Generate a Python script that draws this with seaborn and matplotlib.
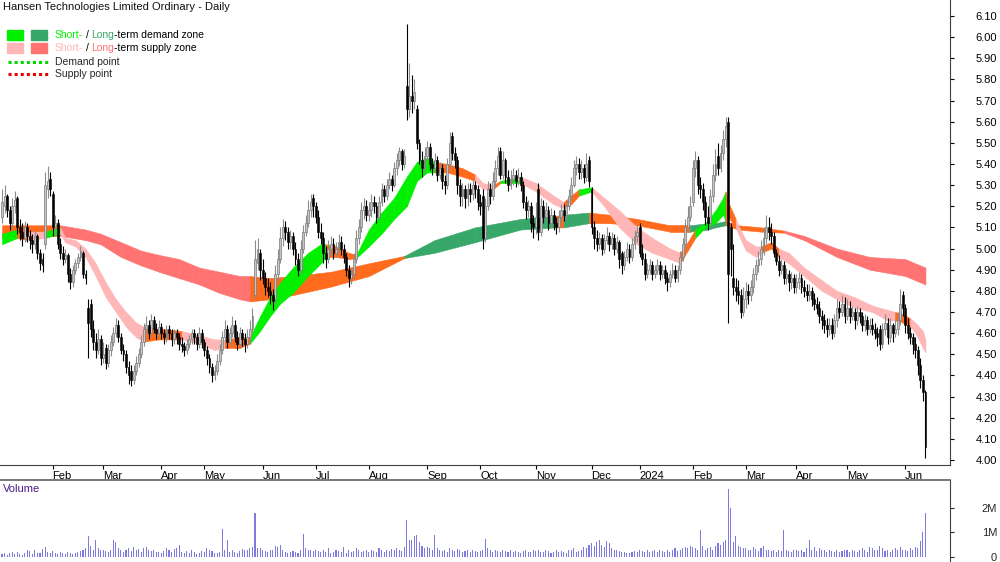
import numpy as np
import pandas as pd
import matplotlib
matplotlib.use("Agg")
import matplotlib.pyplot as plt
import seaborn as sns

# ---------------- data ----------------
holidays = ['2023-01-26', '2023-04-07', '2023-04-10', '2023-04-25', '2023-06-12',
            '2023-12-25', '2023-12-26', '2024-01-01', '2024-01-26', '2024-03-29',
            '2024-04-01', '2024-04-25', '2024-06-10']

close_m = [
 [5.22,5.25,5.18,5.12,5.20,5.23,5.10,5.08,5.05,5.10,5.06,5.04,5.02,5.06,4.98,4.93,4.92,5.30,5.32,5.28],
 [5.10,5.12,5.02,4.98,4.95,4.97,4.88,4.84,4.90,4.93,4.96,4.99,4.88,4.86,4.65,4.62,4.56,4.52,4.57,4.48],
 [4.50,4.46,4.52,4.56,4.60,4.64,4.58,4.52,4.50,4.44,4.40,4.38,4.42,4.46,4.50,4.56,4.62,4.64,4.60,4.66,4.62,4.60,4.63],
 [4.60,4.58,4.62,4.60,4.57,4.60,4.58,4.55,4.54,4.52,4.55,4.57,4.60,4.58,4.55,4.60,4.56],
 [4.52,4.48,4.44,4.40,4.42,4.47,4.52,4.58,4.62,4.56,4.60,4.64,4.58,4.55,4.60,4.57,4.55,4.58,4.62,4.68,4.95,5.00,4.90],
 [4.86,4.82,4.80,4.78,4.75,4.88,4.95,5.05,5.10,5.08,5.03,5.06,5.00,4.95,4.90,5.00,5.08,5.12,5.18,5.22,5.20],
 [5.15,5.08,5.05,4.98,4.95,5.00,5.02,4.98,5.00,5.03,5.00,4.96,4.90,4.86,4.88,4.95,5.05,5.10,5.18,5.20,5.16],
 [5.18,5.22,5.20,5.15,5.22,5.28,5.25,5.30,5.33,5.30,5.38,5.42,5.46,5.40,5.44,5.66,5.72,5.70,5.74,5.50,5.42,5.38,5.44],
 [5.48,5.40,5.38,5.42,5.35,5.38,5.32,5.30,5.40,5.50,5.45,5.42,5.30,5.25,5.28,5.24,5.28,5.26,5.30,5.28,5.22],
 [5.20,5.05,5.20,5.28,5.25,5.32,5.38,5.44,5.35,5.42,5.34,5.30,5.33,5.35,5.32,5.34,5.30,5.22,5.18,5.20,5.12,5.10],
 [5.15,5.08,5.20,5.15,5.18,5.12,5.16,5.12,5.10,5.15,5.18,5.16,5.20,5.25,5.30,5.38,5.40,5.36,5.38,5.34,5.40,5.32],
 [5.10,5.05,5.02,5.05,5.00,5.04,5.06,5.02,5.05,5.00,5.03,4.95,4.92,4.96,5.00,4.96,5.02,5.06,5.08],
 [4.98,4.95,4.88,4.90,4.92,4.88,4.90,4.92,4.88,4.90,4.86,4.84,4.88,4.90,4.86,4.90,4.96,5.02,5.10,5.15,5.20],
 [5.38,5.42,5.30,5.28,5.22,5.15,5.12,5.25,5.35,5.40,5.38,5.45,5.52,5.58,4.88,5.00,4.82,4.80,4.78,4.70,4.76],
 [4.80,4.78,4.82,4.88,4.92,4.95,5.00,5.05,5.10,5.08,5.06,4.98,4.94,4.90,4.92,4.86,4.88,4.84,4.86,4.82],
 [4.84,4.86,4.82,4.80,4.78,4.80,4.76,4.74,4.72,4.68,4.66,4.64,4.62,4.64,4.60,4.66,4.72,4.70,4.74,4.68],
 [4.72,4.68,4.70,4.66,4.70,4.68,4.64,4.66,4.62,4.64,4.62,4.60,4.58,4.55,4.62,4.65,4.58,4.64,4.60,4.62,4.66,4.74,4.72],
 [4.64,4.60,4.58,4.55,4.52,4.45,4.38,4.32,4.06],
]
open_m = [
 [5.15,5.20,5.25,5.18,5.12,5.20,5.24,5.10,5.08,5.05,5.10,5.06,5.04,5.02,5.06,4.98,4.95,5.02,5.28,5.33],
 [5.26,5.10,5.12,5.02,4.98,4.95,4.97,4.88,4.84,4.90,4.93,4.96,4.98,4.88,4.72,4.74,4.62,4.56,4.52,4.57],
 [4.48,4.53,4.46,4.52,4.56,4.60,4.64,4.58,4.52,4.50,4.44,4.42,4.38,4.42,4.46,4.50,4.56,4.62,4.64,4.60,4.66,4.62,4.60],
 [4.63,4.60,4.58,4.62,4.60,4.57,4.60,4.58,4.55,4.54,4.52,4.55,4.57,4.60,4.58,4.55,4.60],
 [4.56,4.52,4.48,4.44,4.40,4.42,4.47,4.52,4.58,4.62,4.56,4.60,4.64,4.58,4.55,4.60,4.57,4.55,4.58,4.62,4.78,4.93,4.98],
 [4.90,4.86,4.82,4.80,4.78,4.76,4.88,4.95,5.05,5.10,5.08,5.03,5.06,5.00,4.95,4.90,5.00,5.08,5.12,5.18,5.24],
 [5.20,5.15,5.08,5.05,4.98,4.95,5.00,5.02,4.98,5.00,5.03,5.00,4.96,4.90,4.86,4.88,4.95,5.05,5.10,5.18,5.20],
 [5.16,5.18,5.22,5.20,5.15,5.22,5.28,5.25,5.30,5.33,5.30,5.38,5.42,5.46,5.40,5.77,5.66,5.72,5.70,5.66,5.50,5.42,5.38],
 [5.44,5.48,5.40,5.38,5.42,5.35,5.38,5.32,5.30,5.40,5.53,5.45,5.42,5.30,5.25,5.28,5.24,5.28,5.26,5.30,5.28],
 [5.22,5.25,5.05,5.20,5.28,5.25,5.32,5.38,5.46,5.35,5.42,5.34,5.30,5.33,5.35,5.32,5.34,5.30,5.22,5.18,5.20,5.12],
 [5.10,5.28,5.08,5.20,5.15,5.18,5.12,5.16,5.12,5.10,5.15,5.18,5.16,5.20,5.25,5.30,5.38,5.40,5.36,5.38,5.34,5.42],
 [5.28,5.10,5.05,5.02,5.05,5.00,5.04,5.06,5.02,5.05,5.00,5.03,4.98,4.92,4.96,5.00,4.96,5.02,5.06],
 [5.10,4.98,4.95,4.88,4.90,4.92,4.88,4.90,4.92,4.88,4.90,4.86,4.84,4.88,4.90,4.86,4.90,4.96,5.02,5.10,5.15],
 [5.22,5.38,5.42,5.30,5.28,5.22,5.15,5.12,5.25,5.35,5.44,5.38,5.45,5.52,5.60,5.10,4.86,4.82,4.80,4.78,4.70],
 [4.76,4.80,4.78,4.82,4.88,4.92,4.95,5.00,5.05,5.10,5.08,5.06,4.98,4.94,4.90,4.92,4.86,4.88,4.84,4.86],
 [4.82,4.84,4.86,4.82,4.80,4.78,4.80,4.76,4.74,4.72,4.68,4.66,4.64,4.62,4.64,4.60,4.66,4.72,4.70,4.74],
 [4.68,4.72,4.68,4.70,4.66,4.70,4.68,4.64,4.66,4.62,4.64,4.62,4.60,4.62,4.55,4.62,4.65,4.58,4.64,4.60,4.62,4.66,4.78],
 [4.72,4.64,4.60,4.58,4.55,4.52,4.45,4.38,4.32],
]
high_m = [
 [5.28,5.30,5.26,5.20,5.24,5.27,5.25,5.14,5.12,5.13,5.12,5.09,5.07,5.09,5.07,5.00,4.98,5.36,5.39,5.36],
 [5.27,5.16,5.14,5.05,5.01,5.00,4.98,4.91,4.92,4.95,4.98,5.01,4.99,4.90,4.76,4.76,4.66,4.60,4.62,4.59],
 [4.56,4.55,4.55,4.59,4.63,4.67,4.66,4.60,4.55,4.52,4.47,4.45,4.45,4.49,4.53,4.59,4.65,4.68,4.66,4.69,4.68,4.65,4.66],
 [4.65,4.62,4.64,4.64,4.62,4.62,4.62,4.60,4.58,4.56,4.57,4.59,4.62,4.62,4.60,4.63,4.62],
 [4.57,4.54,4.50,4.46,4.45,4.50,4.55,4.61,4.66,4.64,4.63,4.68,4.66,4.61,4.63,4.62,4.60,4.62,4.66,4.72,5.04,5.05,5.00],
 [4.95,4.89,4.86,4.84,4.81,4.92,5.00,5.10,5.14,5.13,5.10,5.09,5.08,5.03,4.98,5.04,5.11,5.16,5.23,5.26,5.26],
 [5.22,5.18,5.12,5.08,5.01,5.04,5.06,5.05,5.03,5.07,5.06,5.02,4.98,4.92,4.91,4.98,5.09,5.14,5.22,5.24,5.23],
 [5.22,5.26,5.25,5.22,5.25,5.31,5.30,5.33,5.36,5.35,5.41,5.45,5.48,5.47,5.47,6.06,5.88,5.82,5.80,5.68,5.52,5.46,5.48],
 [5.51,5.50,5.43,5.45,5.44,5.41,5.40,5.35,5.43,5.55,5.55,5.48,5.44,5.33,5.31,5.30,5.31,5.31,5.33,5.32,5.30],
 [5.26,5.28,5.24,5.32,5.31,5.36,5.42,5.48,5.48,5.46,5.43,5.37,5.37,5.38,5.37,5.38,5.36,5.32,5.25,5.23,5.22,5.16],
 [5.22,5.31,5.24,5.23,5.22,5.20,5.19,5.18,5.15,5.18,5.21,5.21,5.23,5.28,5.34,5.42,5.44,5.43,5.42,5.40,5.45,5.44],
 [5.29,5.13,5.09,5.08,5.07,5.07,5.10,5.08,5.08,5.07,5.06,5.04,4.99,4.99,5.03,5.02,5.05,5.09,5.11],
 [5.12,5.02,4.98,4.93,4.95,4.94,4.92,4.95,4.94,4.92,4.92,4.89,4.90,4.93,4.92,4.92,4.99,5.05,5.14,5.20,5.25],
 [5.42,5.46,5.44,5.34,5.31,5.25,5.20,5.28,5.40,5.47,5.50,5.49,5.56,5.62,5.62,5.12,5.02,4.86,4.85,4.81,4.82],
 [4.84,4.83,4.85,4.91,4.95,4.99,5.04,5.10,5.16,5.15,5.12,5.08,5.00,4.97,4.95,4.94,4.91,4.90,4.89,4.88],
 [4.88,4.89,4.88,4.85,4.83,4.83,4.82,4.79,4.77,4.75,4.71,4.69,4.67,4.67,4.67,4.69,4.76,4.75,4.78,4.77],
 [4.76,4.75,4.73,4.72,4.73,4.72,4.70,4.69,4.68,4.67,4.67,4.65,4.63,4.64,4.65,4.69,4.67,4.67,4.65,4.66,4.70,4.81,4.80],
 [4.74,4.67,4.63,4.60,4.58,4.54,4.48,4.40,4.33],
]
low_m = [
 [5.12,5.17,5.15,5.09,5.10,5.17,5.07,5.04,5.01,5.03,5.03,5.00,4.98,5.00,4.95,4.90,4.89,5.00,5.24,5.25],
 [5.06,5.06,5.00,4.95,4.92,4.93,4.84,4.81,4.82,4.88,4.91,4.94,4.86,4.83,4.48,4.58,4.52,4.48,4.50,4.45],
 [4.46,4.43,4.44,4.49,4.54,4.58,4.56,4.50,4.47,4.41,4.36,4.35,4.36,4.40,4.44,4.48,4.54,4.60,4.57,4.58,4.60,4.57,4.58],
 [4.57,4.55,4.56,4.57,4.54,4.55,4.55,4.52,4.51,4.49,4.50,4.53,4.55,4.55,4.52,4.53,4.53],
 [4.49,4.45,4.41,4.37,4.38,4.40,4.45,4.50,4.56,4.53,4.54,4.58,4.56,4.52,4.53,4.54,4.51,4.53,4.55,4.60,4.76,4.90,4.85],
 [4.83,4.78,4.77,4.74,4.71,4.74,4.85,4.93,5.01,5.04,5.00,5.00,4.97,4.92,4.87,4.88,4.98,5.06,5.10,5.15,5.15],
 [5.12,5.05,5.02,4.93,4.91,4.93,4.97,4.95,4.96,4.98,4.97,4.93,4.87,4.82,4.83,4.86,4.93,5.02,5.08,5.14,5.13],
 [5.13,5.15,5.17,5.12,5.14,5.20,5.22,5.23,5.28,5.27,5.29,5.35,5.39,5.37,5.38,5.61,5.62,5.64,5.66,5.47,5.40,5.34,5.36],
 [5.42,5.37,5.35,5.36,5.32,5.33,5.28,5.26,5.28,5.38,5.42,5.38,5.26,5.20,5.20,5.19,5.20,5.22,5.23,5.24,5.18],
 [5.16,5.00,5.03,5.18,5.21,5.23,5.29,5.35,5.33,5.33,5.31,5.27,5.28,5.30,5.29,5.30,5.27,5.19,5.14,5.15,5.08,5.05],
 [5.07,5.04,5.06,5.12,5.13,5.09,5.10,5.09,5.07,5.08,5.13,5.13,5.14,5.18,5.23,5.29,5.35,5.33,5.33,5.31,5.32,5.29],
 [5.07,5.00,4.99,5.00,4.97,4.98,5.02,4.99,5.00,4.97,4.98,4.91,4.88,4.90,4.94,4.93,4.94,5.00,5.03],
 [4.96,4.92,4.85,4.86,4.88,4.85,4.86,4.88,4.85,4.86,4.83,4.80,4.82,4.86,4.84,4.84,4.88,4.94,5.00,5.08,5.13],
 [5.20,5.34,5.26,5.24,5.18,5.11,5.09,5.10,5.22,5.32,5.35,5.36,5.42,5.48,4.65,4.87,4.78,4.75,4.74,4.67,4.68],
 [4.72,4.74,4.75,4.79,4.85,4.89,4.92,4.97,5.02,5.04,5.02,4.96,4.92,4.87,4.88,4.83,4.83,4.80,4.81,4.79],
 [4.79,4.81,4.79,4.77,4.75,4.75,4.73,4.71,4.69,4.65,4.62,4.60,4.58,4.59,4.57,4.58,4.63,4.67,4.68,4.65],
 [4.66,4.65,4.66,4.62,4.64,4.65,4.61,4.61,4.59,4.60,4.59,4.57,4.54,4.52,4.53,4.59,4.55,4.56,4.56,4.58,4.59,4.64,4.68],
 [4.60,4.57,4.55,4.50,4.48,4.40,4.34,4.28,4.01],
]
volume_m = [  # millions of shares
 [0.12,0.18,0.10,0.15,0.22,0.14,0.20,0.12,0.10,0.16,0.28,0.25,0.12,0.30,0.18,0.15,0.32,0.40,0.22,0.18],
 [0.25,0.15,0.12,0.20,0.18,0.14,0.22,0.16,0.12,0.18,0.20,0.24,0.30,0.35,0.85,0.45,0.30,0.70,0.35,0.28],
 [0.30,0.26,0.22,0.30,0.70,0.60,0.35,0.28,0.22,0.30,0.35,0.25,0.40,0.28,0.32,0.22,0.35,0.40,0.28,0.25,0.30,0.22,0.20],
 [0.18,0.25,0.35,0.28,0.20,0.32,0.38,0.50,0.22,0.18,0.25,0.15,0.30,0.20,0.12,0.18,0.25],
 [0.20,0.35,0.28,0.25,0.15,0.18,0.22,1.15,0.30,0.70,0.22,0.28,0.20,0.18,0.25,0.32,0.28,0.30,0.35,0.40,1.80,0.38,0.35],
 [0.30,0.25,0.22,0.28,0.30,0.45,0.42,0.50,0.30,0.22,0.18,0.20,0.25,0.22,0.18,0.28,0.95,0.35,0.28,0.30,0.25],
 [0.30,0.25,0.20,0.28,0.22,0.35,0.18,0.20,0.30,0.25,0.22,0.40,0.18,0.30,0.22,0.25,0.35,0.28,0.20,0.25,0.30],
 [0.22,0.30,0.25,0.20,0.35,0.28,0.22,0.30,0.25,0.32,0.28,0.35,0.30,0.25,0.40,1.50,0.70,0.70,0.85,0.90,0.60,0.45,0.35],
 [0.40,0.35,0.30,0.90,0.35,0.28,0.25,0.30,0.22,0.35,0.30,0.25,0.32,0.28,0.20,0.25,0.30,0.22,0.28,0.25,0.20],
 [0.25,0.30,0.75,0.35,0.28,0.22,0.30,0.25,0.20,0.28,0.25,0.22,0.30,0.20,0.25,0.22,0.18,0.25,0.30,0.22,0.20,0.28],
 [0.25,0.30,0.22,0.20,0.28,0.25,0.18,0.22,0.30,0.20,0.25,0.22,0.18,0.28,0.30,0.35,0.22,0.25,0.30,0.40,0.35,0.50],
 [0.55,0.45,0.60,0.70,0.50,0.40,0.65,0.55,0.35,0.30,0.28,0.25,0.20,0.22,0.18,0.15,0.20,0.25,0.22],
 [0.30,0.25,0.22,0.28,0.20,0.25,0.30,0.22,0.28,0.25,0.20,0.30,0.22,0.28,0.35,0.25,0.30,0.38,0.40,0.35,0.45],
 [0.40,0.35,0.30,1.10,0.45,0.30,0.35,0.40,0.30,0.45,0.55,0.50,0.60,0.70,2.75,2.00,0.60,0.85,0.45,0.40,0.35],
 [0.35,0.30,0.28,0.40,0.32,0.25,0.35,0.45,0.30,0.28,0.25,0.30,0.22,0.28,0.25,1.10,0.30,0.25,0.22,0.28],
 [0.30,0.25,0.28,0.22,0.35,0.70,0.30,0.40,0.25,0.35,0.30,0.28,0.22,0.30,0.25,0.20,0.28,0.22,0.25,0.30],
 [0.28,0.22,0.30,0.25,0.20,0.28,0.35,0.30,0.22,0.40,0.35,0.28,0.30,0.45,0.38,0.25,0.30,0.22,0.28,0.35,0.30,0.40,0.28],
 [0.30,0.25,0.35,0.28,0.40,0.35,0.65,1.00,1.80],
]

# long-term zone band, sampled at bar numbers (zone of segment starting there)
lt_bar = [0, 23, 33, 39, 47, 55, 62, 70, 78, 86, 94, 98, 106, 115, 130, 145, 159, 171, 187, 205,
          219, 222, 232, 240, 251, 264, 272, 279, 282, 286, 291, 300, 309, 317, 330, 343, 357, 365]
lt_hi = [5.11, 5.11, 5.09, 5.07, 5.03, 4.99, 4.97, 4.95, 4.91, 4.89, 4.87, 4.87, 4.86, 4.87, 4.89,
         4.93, 4.965, 5.04, 5.10, 5.14, 5.155, 5.16, 5.17, 5.16, 5.14, 5.11, 5.11, 5.12, 5.12, 5.13,
         5.11, 5.10, 5.085, 5.06, 5.00, 4.96, 4.95, 4.91]
lt_lo = [5.05, 5.06, 5.04, 5.02, 4.96, 4.92, 4.89, 4.86, 4.83, 4.79, 4.76, 4.75, 4.76, 4.78, 4.82,
         4.87, 4.955, 4.98, 5.03, 5.09, 5.10, 5.10, 5.12, 5.12, 5.11, 5.08, 5.08, 5.09, 5.10, 5.11,
         5.09, 5.08, 5.075, 5.04, 4.96, 4.90, 4.87, 4.83]
lt_zone = list("NSSSSSSSSSSNNNNNDDDDNDNNNNDDDNNNSSSSSS")

# short-term zone band
st_bar = [0, 6, 10, 17, 23, 25, 29, 33, 37, 41, 45, 49, 53, 56, 62, 71, 78, 84, 88, 94, 98, 102,
          106, 110, 115, 121, 126, 128, 132, 137, 140, 145, 150, 155, 160, 164, 168, 171, 176, 182,
          187, 190, 194, 197, 205, 211, 218, 222, 225, 228, 233, 238, 244, 251, 257, 264, 268, 271,
          274, 278, 282, 285, 286, 287, 290, 291, 294, 298, 300, 304, 307, 311, 317, 324, 330, 337,
          344, 350, 353, 356, 359, 361, 364, 365]
st_hi = [5.07, 5.09, 5.08, 5.08, 5.10, 5.05, 5.04, 5.00, 4.93, 4.84, 4.76, 4.70, 4.65, 4.63, 4.62,
         4.61, 4.59, 4.57, 4.57, 4.58, 4.58, 4.68, 4.77, 4.84, 4.91, 4.98, 5.02, 5.02, 5.01, 4.98,
         4.97, 5.09, 5.17, 5.24, 5.34, 5.41, 5.43, 5.41, 5.40, 5.38, 5.35, 5.31, 5.30, 5.32, 5.34,
         5.31, 5.25, 5.22, 5.25, 5.28, 5.29, 5.24, 5.18, 5.10, 5.05, 5.00, 4.98, 5.03, 5.09, 5.12,
         5.18, 5.24, 5.27, 5.22, 5.14, 5.11, 5.04, 5.01, 5.01, 5.03, 5.00, 4.98, 4.91, 4.85, 4.80,
         4.77, 4.73, 4.71, 4.70, 4.69, 4.67, 4.65, 4.61, 4.57]
st_lo = [5.02, 5.05, 5.04, 5.05, 5.07, 5.03, 5.01, 4.96, 4.87, 4.77, 4.70, 4.63, 4.58, 4.56, 4.57,
         4.57, 4.55, 4.52, 4.53, 4.53, 4.55, 4.61, 4.68, 4.74, 4.79, 4.87, 4.93, 4.96, 4.96, 4.95,
         4.955, 5.01, 5.07, 5.14, 5.20, 5.32, 5.36, 5.36, 5.36, 5.34, 5.32, 5.28, 5.28, 5.31, 5.31,
         5.27, 5.21, 5.19, 5.21, 5.25, 5.27, 5.20, 5.10, 5.02, 4.98, 4.95, 4.93, 4.99, 5.05, 5.10,
         5.12, 5.16, 5.13, 5.15, 5.10, 5.07, 4.99, 4.96, 4.98, 5.00, 4.96, 4.93, 4.87, 4.80, 4.76,
         4.72, 4.70, 4.66, 4.66, 4.65, 4.63, 4.60, 4.53, 4.51]
st_zone = list("DNSDSSSSSSSSSNNSSSNNDDDDDDDNNNDDDDDDDNNNSSNDSSSNNDSSSSSSNNDDDDNNSSSSNNSSSSSSSSNNSSSS")

price_ticks = [4.00, 4.10, 4.20, 4.30, 4.40, 4.50, 4.60, 4.70, 4.80, 4.90, 5.00,
               5.10, 5.20, 5.30, 5.40, 5.50, 5.60, 5.70, 5.80, 5.90, 6.00, 6.10]
volume_ticks = [0, 1_000_000, 2_000_000]
volume_labels = ["0", "1M", "2M"]
title = "Hansen Technologies Limited Ordinary - Daily"

# ---------------- assemble ----------------
flat = lambda m: np.array([v for row in m for v in row], dtype=float)
closes, opens, highs, lows = flat(close_m), flat(open_m), flat(high_m), flat(low_m)
vols = flat(volume_m) * 1e6
dates = pd.bdate_range("2023-01-03", "2024-06-14", freq="C", holidays=holidays)
n = len(dates)
assert len(closes) == n == len(opens) == len(highs) == len(lows) == len(vols)
assert len(lt_bar) == len(lt_hi) == len(lt_lo) == len(lt_zone)
assert len(st_bar) == len(st_hi) == len(st_lo) == len(st_zone)
xi = np.arange(n)

month_pos, month_lab = [], []
for k in range(1, n):
    if dates[k].month != dates[k - 1].month:
        month_pos.append(k)
        month_lab.append(str(dates[k].year) if dates[k].month == 1 else dates[k].strftime("%b"))

# ---------------- style ----------------
sns.set_style("white")
plt.rcParams["font.family"] = ["Liberation Sans", "DejaVu Sans"]
FS = 8

LIME, SEAGREEN = "#00f000", "#38a86a"
PINK, SALMON = "#ffb6b6", "#ff7373"
ORANGE = "#ff6a1c"
lt_col = {"D": SEAGREEN, "S": SALMON, "N": ORANGE}
st_col = {"D": LIME, "S": PINK, "N": ORANGE}

fig = plt.figure(figsize=(10, 5.62), dpi=100)
ax = fig.add_axes([0, 1 - 465 / 562, 0.95, 465 / 562])
axv = fig.add_axes([0, 0, 0.95, 82 / 562])

XL = (-0.8, 374.7)


def band(bars, hi, lo, zone, cmap, z):
    for k in range(len(bars) - 1):
        c = cmap[zone[k]]
        ax.fill_between([bars[k], bars[k + 1]], [lo[k], lo[k + 1]], [hi[k], hi[k + 1]],
                        color=c, ec=c, lw=0.4, zorder=z)


band(lt_bar, lt_hi, lt_lo, lt_zone, lt_col, 1)
band(st_bar, st_hi, st_lo, st_zone, st_col, 2)

up = closes >= opens
wick_col = np.where(up, "#8c8c8c", "#000000")
ax.vlines(xi, lows, highs, colors=wick_col, lw=0.8, zorder=3)
body_lo = np.minimum(opens, closes)
body_h = np.maximum(np.abs(closes - opens), 0.006)
ax.bar(xi[up], body_h[up], bottom=body_lo[up], width=0.75, color="#c4c4c4",
       edgecolor="#7a7a7a", linewidth=0.5, zorder=4)
ax.bar(xi[~up], body_h[~up], bottom=body_lo[~up], width=0.75, color="#000000",
       edgecolor="#000000", linewidth=0.4, zorder=4)

ax.set_xlim(*XL)
ax.set_ylim(6.10 - 449 / 211.4, 6.10 + 16 / 211.4)
ax.yaxis.tick_right()
ax.set_yticks(price_ticks)
ax.set_yticklabels([f"{v:.2f}" for v in price_ticks], fontsize=FS)
ax.set_xticks(month_pos)
ax.set_xticklabels(month_lab, fontsize=FS)
for lab in ax.get_xticklabels():
    lab.set_ha("left")
ax.tick_params(axis="y", direction="out", length=3, width=0.8, pad=31, right=True, left=False, colors="black")
ax.tick_params(axis="x", direction="out", length=3, width=0.8, pad=1, bottom=True, colors="black")
for lab in ax.get_yticklabels():
    lab.set_ha("right")
for s in ["left", "top"]:
    ax.spines[s].set_visible(False)
ax.spines["right"].set_color("#404040")
ax.spines["bottom"].set_color("#404040")
ax.spines["right"].set_linewidth(0.8)
ax.spines["bottom"].set_linewidth(0.8)

# volume panel
vdf = pd.DataFrame({"bar": xi, "volume": vols})
sns.barplot(data=vdf, x="bar", y="volume", native_scale=True, ax=axv, color="#7f7ae0",
            width=0.42, errorbar=None, linewidth=0, saturation=1)
axv.set_xlim(*XL)
axv.set_ylim(-0.2e6, 3.12e6)
axv.set_xlabel("")
axv.set_ylabel("")
axv.set_xticks([])
axv.yaxis.tick_right()
axv.set_yticks(volume_ticks)
axv.set_yticklabels(volume_labels, fontsize=FS)
axv.tick_params(axis="y", direction="out", length=3, width=0.8, pad=31, right=True, left=False)
for lab in axv.get_yticklabels():
    lab.set_ha("right")
for s in ["left", "bottom"]:
    axv.spines[s].set_visible(False)
axv.spines["top"].set_color("#606060")
axv.spines["right"].set_color("#404040")
axv.spines["top"].set_linewidth(1.2)
axv.spines["right"].set_linewidth(0.8)
axv.text(3 / 950, (562 - 489) / 82, "Volume", transform=axv.transAxes, fontsize=FS,
         color="#4b1c8c", va="center", ha="left")

# title and legend
def fy(y):
    return 1 - y / 562


fig.text(3 / 1000, fy(7), title, fontsize=8, va="center", ha="left", color="#111111")
renderer = fig.canvas.get_renderer()
LFS = 7.5


def chain(x, y, parts):
    for s, c, gap in parts:
        t = fig.text(x / 1000, fy(y), s, fontsize=LFS, color=c, va="center", ha="left")
        x += t.get_window_extent(renderer).width + gap


for (y, c1, c2) in [(35, LIME, SEAGREEN), (48, PINK, SALMON)]:
    fig.patches.append(plt.Rectangle((7 / 1000, fy(y + 5)), 16 / 1000, 10 / 562,
                                     transform=fig.transFigure, color=c1))
    fig.patches.append(plt.Rectangle((31 / 1000, fy(y + 5)), 16 / 1000, 10 / 562,
                                     transform=fig.transFigure, color=c2))
chain(55, 35, [("Short-", LIME, 2.5), ("/", "#000000", 2.5), ("Long", SEAGREEN, 0), ("-term demand zone", "#000000", 0)])
chain(55, 48, [("Short-", PINK, 2.5), ("/", "#000000", 2.5), ("Long", SALMON, 0), ("-term supply zone", "#000000", 0)])
fig.add_artist(plt.Line2D([8 / 1000, 48 / 1000], [fy(62), fy(62)], color="#00d800", lw=2.2, ls=(0, (1, 1))))
fig.add_artist(plt.Line2D([8 / 1000, 48 / 1000], [fy(74), fy(74)], color="#e80000", lw=2.2, ls=(0, (1, 1))))
fig.text(55 / 1000, fy(62), "Demand point", fontsize=LFS, va="center", ha="left")
fig.text(55 / 1000, fy(74), "Supply point", fontsize=LFS, va="center", ha="left")

fig.savefig("out.png", dpi=100)
